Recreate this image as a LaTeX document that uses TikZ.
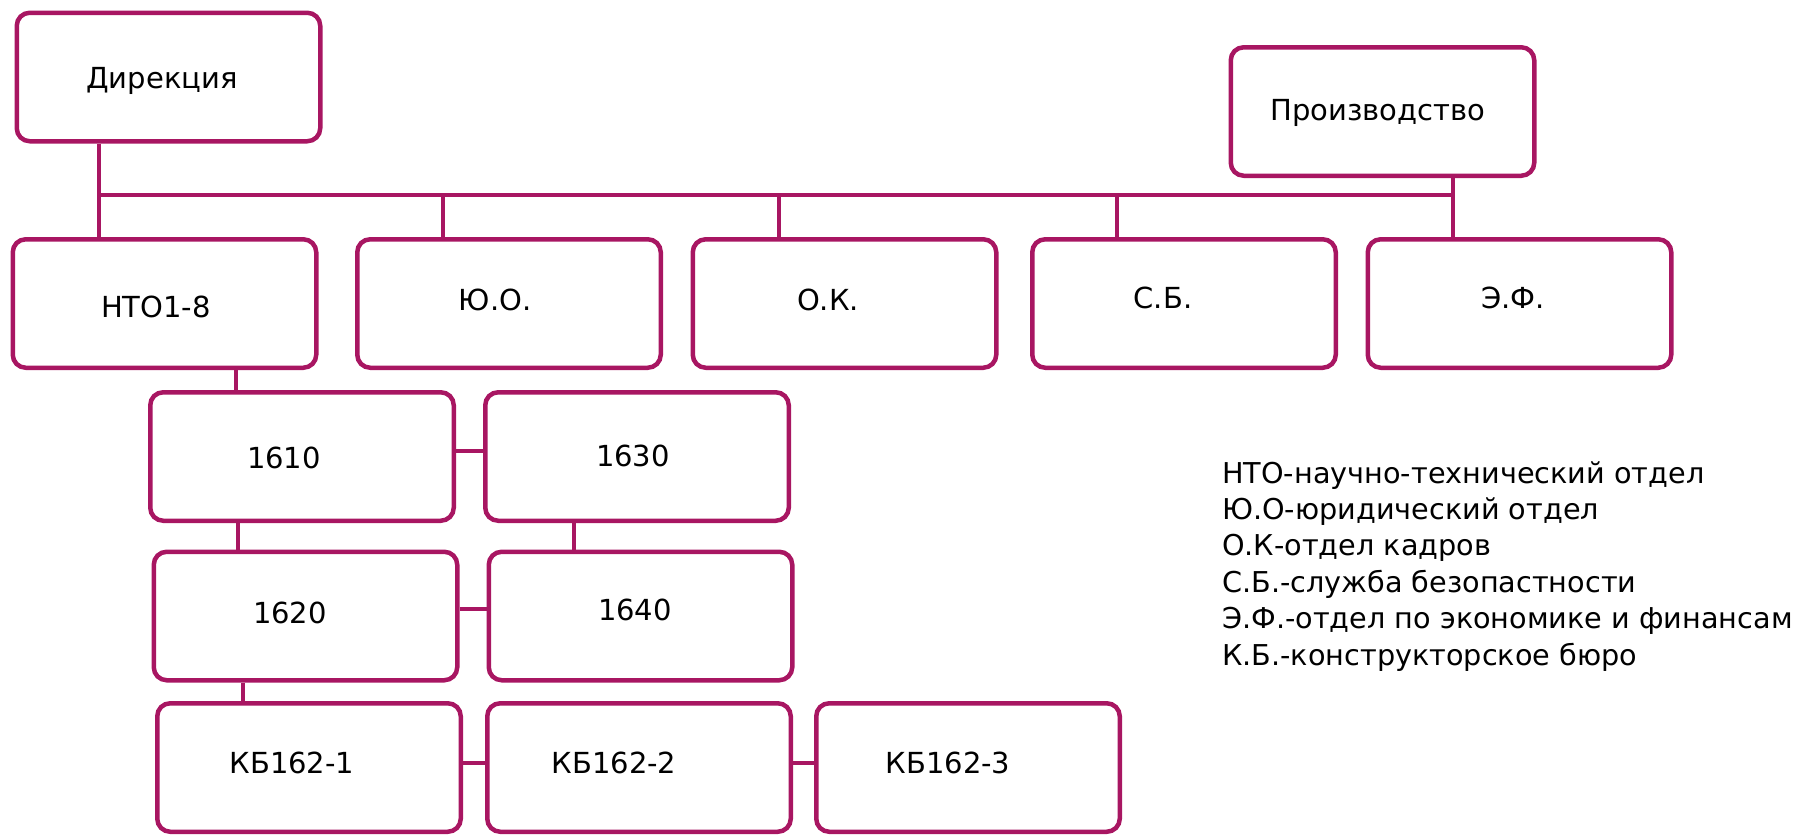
\documentclass[tikz,border=0pt]{standalone}
\usepackage{fontspec}
\setmainfont{DejaVu Sans}
\definecolor{mag}{RGB}{168,22,98}
\begin{document}
\begin{tikzpicture}[x=1pt,y=-1pt,
  box/.style={draw=mag, line width=4.5pt, rounded corners=13pt, minimum width=303.5pt, minimum height=128.5pt, inner sep=0pt},
  tx/.style={font=\fontsize{29}{34}\selectfont, inner sep=0pt, text height=21pt, text depth=0pt},
  lg/.style={font=\fontsize{28.7}{36}\selectfont, inner sep=0pt, anchor=base west},
  con/.style={draw=mag, line width=4.5pt}]
\useasboundingbox (0,0) rectangle (1799,835);
% boxes
\node[box] (dir) at (168.5,77) {};
\node[box] (prod) at (1382.5,111.5) {};
\node[box] (nto) at (164.5,303.5) {};
\node[box] (yuo) at (509,303.5) {};
\node[box] (ok) at (844.5,303.5) {};
\node[box] (sb) at (1184,303.5) {};
\node[box] (ef) at (1519.5,303.5) {};
\node[box] (a1610) at (302,456.5) {};
\node[box] (a1630) at (637,456.5) {};
\node[box] (a1620) at (305.5,616) {};
\node[box] (a1640) at (640.5,616) {};
\node[box] (kb1) at (309,767.5) {};
\node[box] (kb2) at (639,767.5) {};
\node[box] (kb3) at (968,767.5) {};
% texts
\node[tx] (t-dir) at (162,78) {Дирекция};
\node[tx] (t-prod) at (1378,110) {Производство};
\node[tx] (t-nto) at (156,307) {НТО1-8};
\node[tx] (t-yuo) at (495,300) {Ю.О.};
\node[tx] (t-ok) at (828,300) {О.К.};
\node[tx] (t-sb) at (1163,298) {С.Б.};
\node[tx] (t-ef) at (1513,298) {Э.Ф.};
\node[tx] (t-1610) at (284,458) {1610};
\node[tx] (t-1630) at (633,456) {1630};
\node[tx] (t-1620) at (290,613) {1620};
\node[tx] (t-1640) at (635,610) {1640};
\node[tx] (t-kb1) at (292,763) {КБ162-1};
\node[tx] (t-kb2) at (614,763) {КБ162-2};
\node[tx] (t-kb3) at (948,763) {КБ162-3};
% junctions
\coordinate (j1) at (99,195);
\coordinate (j2) at (443,195);
\coordinate (j3) at (779,195);
\coordinate (j4) at (1117,195);
\coordinate (j5) at (1453,195);
\coordinate (v1) at (236,0);
\coordinate (v2) at (238,0);
\coordinate (v3) at (243,0);
\coordinate (v4) at (574,0);
% connectors
\draw[con] (dir.south -| j1) -- (nto.north -| j1);
\draw[con] (j1) -- (j5);
\draw[con] (prod.south -| j5) -- (ef.north -| j5);
\draw[con] (j2) -- (yuo.north -| j2);
\draw[con] (j3) -- (ok.north -| j3);
\draw[con] (j4) -- (sb.north -| j4);
\draw[con] (nto.south -| v1) -- (a1610.north -| v1);
\draw[con] (a1610.south -| v2) -- (a1620.north -| v2);
\draw[con] (a1620.south -| v3) -- (kb1.north -| v3);
\draw[con] (a1630.south -| v4) -- (a1640.north -| v4);
\draw[con] ([yshift=5.5pt]a1610.east) -- ([yshift=5.5pt]a1630.west);
\draw[con] ([yshift=7pt]a1620.east) -- ([yshift=7pt]a1640.west);
\draw[con] ([yshift=4.5pt]kb1.east) -- ([yshift=4.5pt]kb2.west);
\draw[con] ([yshift=4.5pt]kb2.east) -- ([yshift=4.5pt]kb3.west);
% legend
\node[lg] (l1) at (1222,483) {НТО-научно-технический отдел};
\node[lg] (l2) at (1222,519.4) {Ю.О-юридический отдел};
\node[lg] (l3) at (1222,555.8) {О.К-отдел кадров};
\node[lg] (l4) at (1222,592.2) {С.Б.-служба безопастности};
\node[lg] (l5) at (1222,628.6) {Э.Ф.-отдел по экономике и финансам};
\node[lg] (l6) at (1222,665) {К.Б.-конструкторское бюро};
\end{tikzpicture}
\end{document}
